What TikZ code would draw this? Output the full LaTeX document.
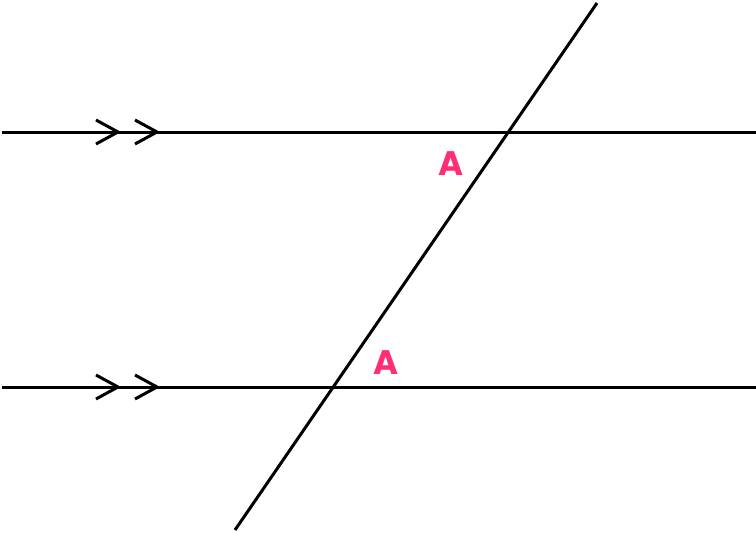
\documentclass[tikz,border=0pt]{standalone}
\usepackage{fontspec}
\newfontfamily\labelfont{Poppins}[BoldFont=* Bold]
\definecolor{anglepink}{HTML}{FF2D75}
\begin{document}
\begin{tikzpicture}[x=1pt,y=-1pt,
  line/.style={line width=3pt},
  chev/.style={line width=3pt,line cap=butt,line join=miter},
  anglelab/.style={text=anglepink,font=\labelfont\bfseries\fontsize{34}{34}\selectfont,inner sep=0pt}]
\useasboundingbox (0,0) rectangle (756,533);
% coordinates
\coordinate (t1) at (2,132);
\coordinate (t2) at (756,132);
\coordinate (b1) at (2,387);
\coordinate (b2) at (756,387);
\coordinate (s1) at (235,530);
\coordinate (s2) at (597,3);
% lines
\draw[line] (t1) -- (t2);
\draw[line] (b1) -- (b2);
\draw[line] (s1) -- (s2);
% chevrons
\foreach \y in {132,387}{
  \draw[chev] (96,\y-12) -- (118,\y) -- (96,\y+12);
  \draw[chev] (135,\y-12) -- (157,\y) -- (135,\y+12);
}
% labels
\node[anglelab] (a1) at (451,164) {A};
\node[anglelab] (a2) at (386,363) {A};
\end{tikzpicture}
\end{document}
